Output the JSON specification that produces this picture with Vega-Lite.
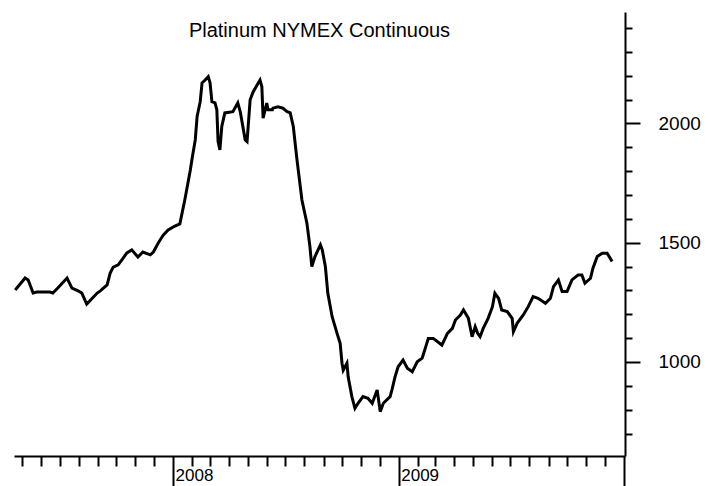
{
  "$schema": "https://vega.github.io/schema/vega-lite/v6.json",
  "width": 611,
  "height": 444,
  "autosize": {"type": "none"},
  "padding": {"left": 14, "top": 12, "right": 87, "bottom": 30},
  "background": "white",
  "config": {"view": {"stroke": null}, "font": "Liberation Sans"},
  "title": {
    "text": "Platinum NYMEX Continuous",
    "font": "Liberation Sans",
    "fontSize": 20,
    "fontWeight": "normal",
    "color": "black",
    "anchor": "middle",
    "baseline": "alphabetic",
    "offset": -45
  },
  "data": {
    "values": [
      {"date": "2007-04-20", "price": 1302},
      {"date": "2007-05-06", "price": 1352},
      {"date": "2007-05-11", "price": 1344},
      {"date": "2007-05-19", "price": 1289},
      {"date": "2007-05-25", "price": 1293},
      {"date": "2007-06-15", "price": 1293},
      {"date": "2007-06-20", "price": 1289},
      {"date": "2007-06-28", "price": 1310},
      {"date": "2007-07-13", "price": 1352},
      {"date": "2007-07-21", "price": 1310},
      {"date": "2007-07-31", "price": 1298},
      {"date": "2007-08-06", "price": 1289},
      {"date": "2007-08-14", "price": 1243},
      {"date": "2007-08-31", "price": 1289},
      {"date": "2007-09-05", "price": 1298},
      {"date": "2007-09-16", "price": 1323},
      {"date": "2007-09-21", "price": 1373},
      {"date": "2007-09-26", "price": 1398},
      {"date": "2007-10-04", "price": 1407},
      {"date": "2007-10-10", "price": 1428},
      {"date": "2007-10-18", "price": 1457},
      {"date": "2007-10-26", "price": 1470},
      {"date": "2007-11-05", "price": 1440},
      {"date": "2007-11-13", "price": 1461},
      {"date": "2007-11-25", "price": 1449},
      {"date": "2007-11-30", "price": 1461},
      {"date": "2007-12-08", "price": 1499},
      {"date": "2007-12-16", "price": 1532},
      {"date": "2007-12-24", "price": 1553},
      {"date": "2008-01-04", "price": 1570},
      {"date": "2008-01-12", "price": 1579},
      {"date": "2008-01-20", "price": 1679},
      {"date": "2008-01-29", "price": 1805},
      {"date": "2008-02-01", "price": 1855},
      {"date": "2008-02-06", "price": 1931},
      {"date": "2008-02-09", "price": 2029},
      {"date": "2008-02-14", "price": 2091},
      {"date": "2008-02-17", "price": 2170},
      {"date": "2008-02-22", "price": 2182},
      {"date": "2008-02-27", "price": 2196},
      {"date": "2008-03-01", "price": 2170},
      {"date": "2008-03-04", "price": 2091},
      {"date": "2008-03-09", "price": 2086},
      {"date": "2008-03-12", "price": 2057},
      {"date": "2008-03-14", "price": 1924},
      {"date": "2008-03-17", "price": 1889},
      {"date": "2008-03-20", "price": 1987},
      {"date": "2008-03-25", "price": 2044},
      {"date": "2008-04-07", "price": 2049},
      {"date": "2008-04-15", "price": 2086},
      {"date": "2008-04-19", "price": 2049},
      {"date": "2008-04-27", "price": 1931},
      {"date": "2008-04-30", "price": 1924},
      {"date": "2008-05-05", "price": 2099},
      {"date": "2008-05-10", "price": 2133},
      {"date": "2008-05-21", "price": 2182},
      {"date": "2008-05-24", "price": 2154},
      {"date": "2008-05-26", "price": 2022},
      {"date": "2008-06-01", "price": 2085},
      {"date": "2008-06-03", "price": 2057},
      {"date": "2008-06-10", "price": 2057},
      {"date": "2008-06-11", "price": 2064},
      {"date": "2008-06-19", "price": 2070},
      {"date": "2008-06-27", "price": 2064},
      {"date": "2008-07-04", "price": 2049},
      {"date": "2008-07-09", "price": 2044},
      {"date": "2008-07-14", "price": 1987},
      {"date": "2008-07-20", "price": 1847},
      {"date": "2008-07-22", "price": 1805},
      {"date": "2008-07-28", "price": 1679},
      {"date": "2008-08-05", "price": 1583},
      {"date": "2008-08-10", "price": 1483},
      {"date": "2008-08-13", "price": 1400},
      {"date": "2008-08-18", "price": 1441},
      {"date": "2008-08-27", "price": 1491},
      {"date": "2008-08-30", "price": 1470},
      {"date": "2008-09-04", "price": 1400},
      {"date": "2008-09-08", "price": 1288},
      {"date": "2008-09-15", "price": 1190},
      {"date": "2008-09-23", "price": 1120},
      {"date": "2008-09-28", "price": 1078},
      {"date": "2008-10-01", "price": 995},
      {"date": "2008-10-03", "price": 966},
      {"date": "2008-10-09", "price": 995},
      {"date": "2008-10-11", "price": 938},
      {"date": "2008-10-17", "price": 855},
      {"date": "2008-10-22", "price": 806},
      {"date": "2008-10-27", "price": 827},
      {"date": "2008-11-04", "price": 855},
      {"date": "2008-11-12", "price": 848},
      {"date": "2008-11-19", "price": 827},
      {"date": "2008-11-27", "price": 883},
      {"date": "2008-12-02", "price": 792},
      {"date": "2008-12-07", "price": 827},
      {"date": "2008-12-18", "price": 855},
      {"date": "2008-12-21", "price": 883},
      {"date": "2008-12-26", "price": 938},
      {"date": "2008-12-31", "price": 980},
      {"date": "2009-01-08", "price": 1008},
      {"date": "2009-01-15", "price": 974},
      {"date": "2009-01-23", "price": 959},
      {"date": "2009-01-31", "price": 1001},
      {"date": "2009-02-08", "price": 1016},
      {"date": "2009-02-13", "price": 1057},
      {"date": "2009-02-18", "price": 1099},
      {"date": "2009-02-26", "price": 1099},
      {"date": "2009-03-12", "price": 1071},
      {"date": "2009-03-21", "price": 1120},
      {"date": "2009-03-29", "price": 1141},
      {"date": "2009-04-03", "price": 1176},
      {"date": "2009-04-11", "price": 1197},
      {"date": "2009-04-16", "price": 1218},
      {"date": "2009-04-24", "price": 1183},
      {"date": "2009-04-30", "price": 1106},
      {"date": "2009-05-05", "price": 1148},
      {"date": "2009-05-09", "price": 1120},
      {"date": "2009-05-13", "price": 1106},
      {"date": "2009-05-18", "price": 1141},
      {"date": "2009-05-26", "price": 1183},
      {"date": "2009-06-02", "price": 1232},
      {"date": "2009-06-06", "price": 1288},
      {"date": "2009-06-12", "price": 1267},
      {"date": "2009-06-17", "price": 1218},
      {"date": "2009-06-26", "price": 1211},
      {"date": "2009-07-04", "price": 1183},
      {"date": "2009-07-06", "price": 1127},
      {"date": "2009-07-12", "price": 1162},
      {"date": "2009-07-22", "price": 1197},
      {"date": "2009-07-30", "price": 1232},
      {"date": "2009-08-07", "price": 1274},
      {"date": "2009-08-15", "price": 1267},
      {"date": "2009-08-27", "price": 1246},
      {"date": "2009-09-04", "price": 1267},
      {"date": "2009-09-09", "price": 1316},
      {"date": "2009-09-17", "price": 1344},
      {"date": "2009-09-23", "price": 1295},
      {"date": "2009-10-01", "price": 1295},
      {"date": "2009-10-09", "price": 1344},
      {"date": "2009-10-19", "price": 1365},
      {"date": "2009-10-25", "price": 1365},
      {"date": "2009-10-30", "price": 1330},
      {"date": "2009-11-08", "price": 1351},
      {"date": "2009-11-12", "price": 1393},
      {"date": "2009-11-19", "price": 1442},
      {"date": "2009-11-27", "price": 1456},
      {"date": "2009-12-05", "price": 1456},
      {"date": "2009-12-10", "price": 1435},
      {"date": "2009-12-13", "price": 1421}
    ]
  },
  "mark": {"type": "line", "color": "black", "strokeWidth": 3, "strokeJoin": "miter", "interpolate": "linear"},
  "encoding": {
    "x": {
      "field": "date",
      "type": "temporal",
      "scale": {
        "type": "utc",
        "domain": [
          {"year": 2007, "month": 4, "date": 18, "utc": true},
          {"year": 2010, "month": 1, "date": 3, "utc": true}
        ]
      },
      "axis": {
        "orient": "bottom",
        "title": null,
        "grid": false,
        "domain": true,
        "domainColor": "black",
        "domainWidth": 2,
        "tickColor": "black",
        "tickWidth": 2,
        "tickCount": {"interval": "month", "step": 1},
        "tickSize": {"condition": {"test": "utcmonth(datum.value) == 0", "value": 32}, "value": 10},
        "labelExpr": "utcmonth(datum.value) == 0 && utcyear(datum.value) < 2010 ? utcFormat(datum.value, '%Y') : ''",
        "labelAlign": "left",
        "labelBaseline": "top",
        "labelOffset": 2,
        "labelPadding": -21,
        "labelFont": "Liberation Sans",
        "labelFontSize": 17,
        "labelColor": "black",
        "labelOverlap": false,
        "labelFlush": false,
        "labelBound": false
      }
    },
    "y": {
      "field": "price",
      "type": "quantitative",
      "scale": {"domain": [606, 2467], "nice": false, "zero": false},
      "axis": {
        "orient": "right",
        "title": null,
        "grid": false,
        "domain": true,
        "domainColor": "black",
        "domainWidth": 2,
        "tickColor": "black",
        "tickWidth": 2,
        "values": [700, 800, 900, 1000, 1100, 1200, 1300, 1400, 1500, 1600, 1700, 1800, 1900, 2000, 2100, 2200, 2300, 2400],
        "tickSize": {"condition": {"test": "datum.value % 500 == 0", "value": 15}, "value": 7},
        "labelExpr": "datum.value % 500 == 0 ? format(datum.value, 'd') : ''",
        "labelAlign": "left",
        "labelBaseline": "middle",
        "labelPadding": 18,
        "labelFont": "Liberation Sans",
        "labelFontSize": 19,
        "labelColor": "black",
        "labelOverlap": false,
        "labelFlush": false,
        "labelBound": false
      }
    }
  }
}
